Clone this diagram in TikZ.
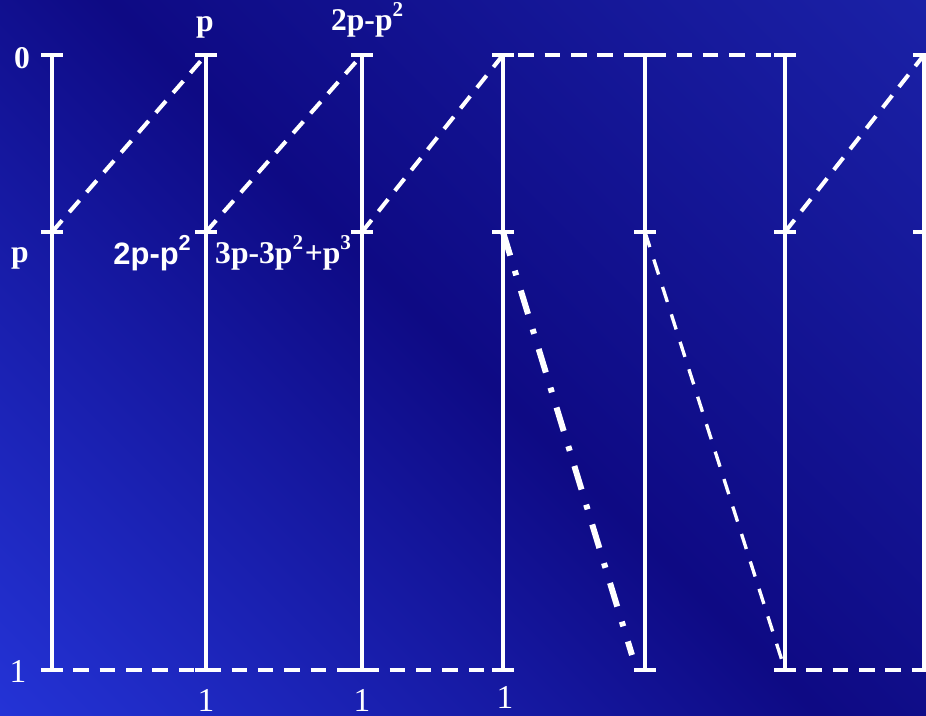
\documentclass[tikz,border=0pt]{standalone}
\usepackage{fontspec}
\setmainfont{Liberation Serif}
\newfontfamily\labsans{Liberation Sans}
\usetikzlibrary{positioning}
\definecolor{bgcorner}{HTML}{2535DA}
\definecolor{bgmid}{HTML}{0E0A84}
\definecolor{bgtop}{HTML}{1B22A8}

\begin{document}
\begin{tikzpicture}[
    lab/.style={text=white, font=\bfseries\fontsize{9}{11}\selectfont, inner sep=0pt},
    labone/.style={text=white, font=\fontsize{9.5}{11}\selectfont, inner sep=0pt},
    axisline/.style={white, line width=1.1pt},
    tickmark/.style={white, line width=1.2pt},
    flow/.style={white, line width=1.15pt, dash pattern=on 4.4pt off 3.1pt},
    flowthin/.style={white, line width=0.95pt, dash pattern=on 4.5pt off 3.7pt},
    dashdotline/.style={white, line width=1.7pt, dash pattern=on 7pt off 4.5pt on 1.4pt off 4.5pt}
]
    % background
    \useasboundingbox (0,0) rectangle (9.26,7.15);
    \clip (0,0) rectangle (9.26,7.15);
    \shade[bottom color=bgcorner, top color=bgtop, middle color=bgmid, shading angle=-45]
        (-2,-2) rectangle (11.26,9.15);

    % vertical scales
    \foreach \i/\x in {1/0.52,2/2.06,3/3.62,4/5.03,5/6.45,6/7.85,7/9.24} {
        \coordinate (t\i) at (\x,6.60);
        \coordinate (m\i) at (\x,4.83);
        \coordinate (b\i) at (\x,0.45);
        \draw[axisline] (t\i) -- (b\i);
        \draw[tickmark] ([xshift=-0.11cm]t\i) -- ([xshift=0.11cm]t\i);
        \draw[tickmark] ([xshift=-0.11cm]m\i) -- ([xshift=0.11cm]m\i);
        \draw[tickmark] ([xshift=-0.11cm]b\i) -- ([xshift=0.11cm]b\i);
    }

    % transitions
    \draw[flow] (m1) -- (t2);
    \draw[flow] (m2) -- (t3);
    \draw[flow] (m3) -- (t4);
    \draw[flow] (m6) -- (t7);
    \draw[flow] ([xshift=-0.11cm]t4) -- ([xshift=0.11cm]t6);
    \draw[flow] ([xshift=-0.05cm]b1) -- ([xshift=0.11cm]b4);
    \draw[flow] ([xshift=-0.05cm]b6) -- ([xshift=0.11cm]b7);
    \coordinate (dd) at (6.32,0.60);
    \draw[dashdotline] (m4) -- (dd);
    \draw[flowthin] (m5) -- (b6);

    % labels
    \node[lab] (zero) at (0.22,6.57) {0};
    \node[lab] (pleft) at (0.20,4.57) {p};
    \node[lab] (ptop) at (2.05,6.88) {p};
    \node[lab] (qtop) at (3.68,6.95) {2p-p\textsuperscript{2}};
    \node[lab, font=\labsans\bfseries\fontsize{8.8}{10}\selectfont] (qmid) at (1.53,4.62) {2p-p\textsuperscript{2}};
    \node[lab] (rmid) at (2.84,4.62) {3p-3p\textsuperscript{2}+p\textsuperscript{3}};
    \node[labone] (oneleft) at (0.18,0.44) {1};
    \node[labone] (one2) at (2.06,0.15) {1};
    \node[labone] (one3) at (3.62,0.15) {1};
    \node[labone] (one4) at (5.05,0.18) {1};
\end{tikzpicture}
\end{document}
